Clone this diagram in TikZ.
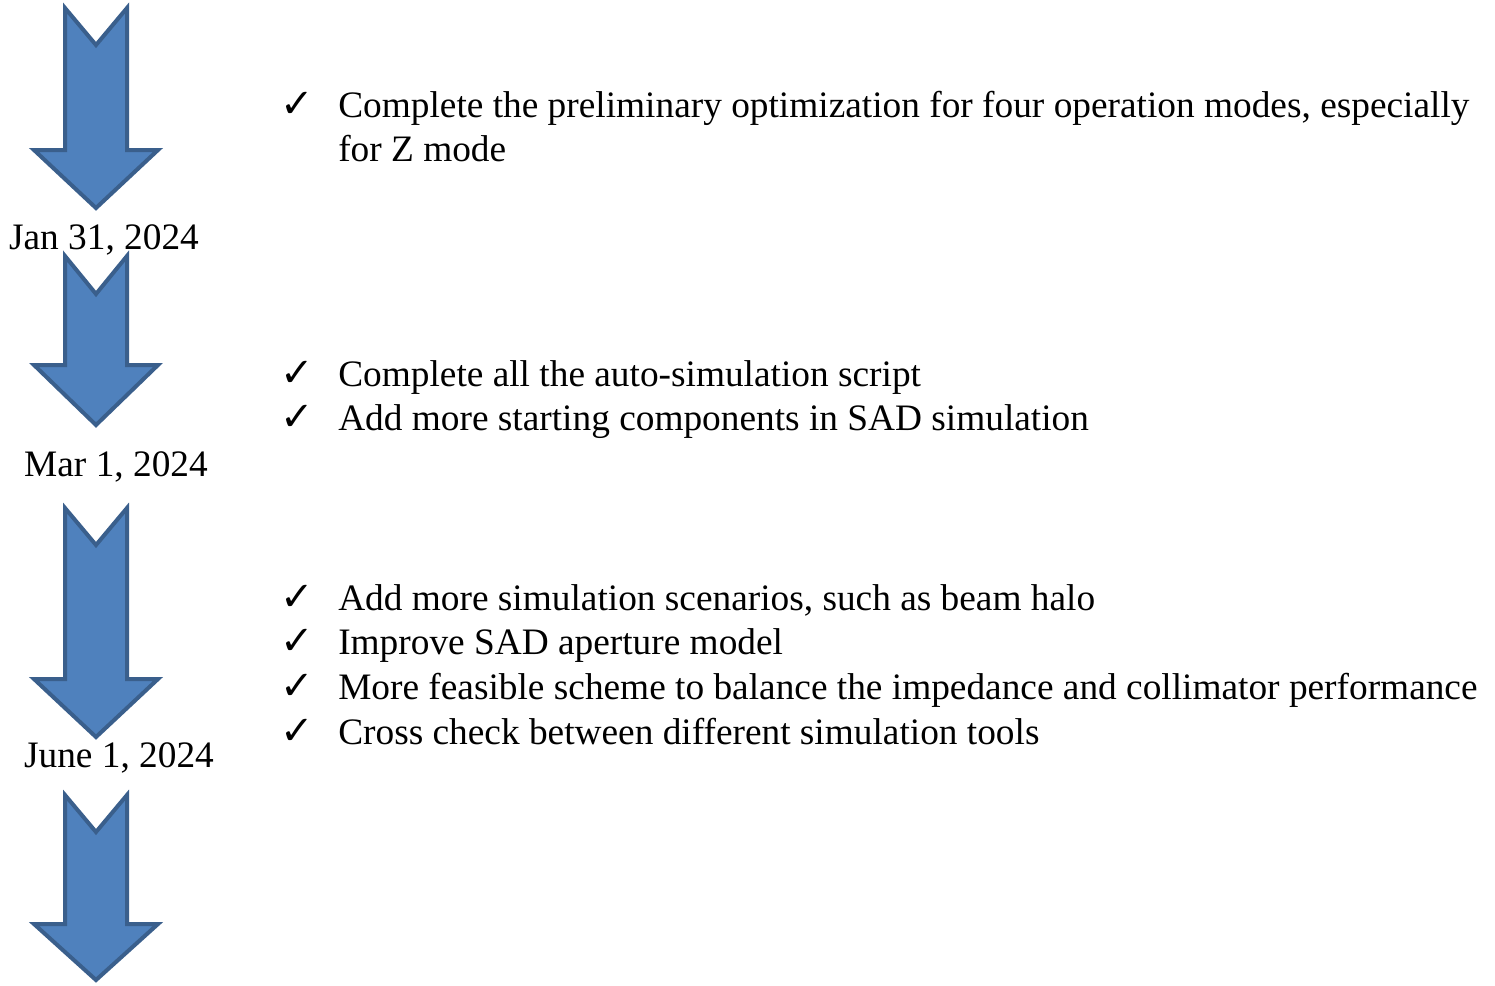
\documentclass[tikz,border=0pt]{standalone}
\usepackage{fontspec}
\setmainfont{Liberation Serif}
\newfontfamily\symfont{DejaVu Sans}
\begin{document}
\begin{tikzpicture}[x=0.75pt,y=-0.75pt,
  blockarrow/.style={fill=arrowfill,draw=arrowline,line width=3pt,line join=miter},
  item/.style={anchor=base west,inner sep=0pt,font=\fontsize{28}{33}\selectfont},
  tick/.style={anchor=base west,inner sep=0pt,font=\symfont\fontsize{30}{34}\selectfont},
  datelbl/.style={anchor=base,inner sep=0pt,font=\fontsize{28}{33}\selectfont}]
\definecolor{arrowfill}{HTML}{4F81BD}
\definecolor{arrowline}{HTML}{3A5F8C}
\path[use as bounding box,fill=white] (0,0) rectangle (1495,985);
% arrows: #1 top, #2 notch, #3 head, #4 tip
\newcommand\tlarrow[4]{%
  \draw[blockarrow] (65,#1) -- (96,#2) -- (127,#1) -- (127,#3) -- (158,#3)
    -- (96,#4) -- (34,#3) -- (65,#3) -- cycle;}
\tlarrow{8}{45}{150}{208}
\tlarrow{256}{294}{365}{425}
\tlarrow{508}{545}{679}{737}
\tlarrow{795}{832}{924}{980}
% dates
\node[datelbl] (d1) at (104,249) {Jan 31, 2024};
\node[datelbl] (d2) at (116,476) {Mar 1, 2024};
\node[datelbl] (d3) at (119,767) {June 1, 2024};
% block 1
\node[tick] (c11) at (280,117) {✓};
\node[item] (t11) at (338,117) {Complete the preliminary optimization for four operation modes, especially};
\node[item] (t12) at (338,161) {for Z mode};
% block 2
\node[tick] (c21) at (280,386) {✓};
\node[item] (t21) at (338,386) {Complete all the auto-simulation script};
\node[tick] (c22) at (280,430) {✓};
\node[item] (t22) at (338,430) {Add more starting components in SAD simulation};
% block 3
\node[tick] (c31) at (280,610) {✓};
\node[item] (t31) at (338,610) {Add more simulation scenarios, such as beam halo};
\node[tick] (c32) at (280,654) {✓};
\node[item] (t32) at (338,654) {Improve SAD aperture model};
\node[tick] (c33) at (280,699) {✓};
\node[item] (t33) at (338,699) {More feasible scheme to balance the impedance and collimator performance};
\node[tick] (c34) at (280,744) {✓};
\node[item] (t34) at (338,744) {Cross check between different simulation tools};
\end{tikzpicture}
\end{document}
